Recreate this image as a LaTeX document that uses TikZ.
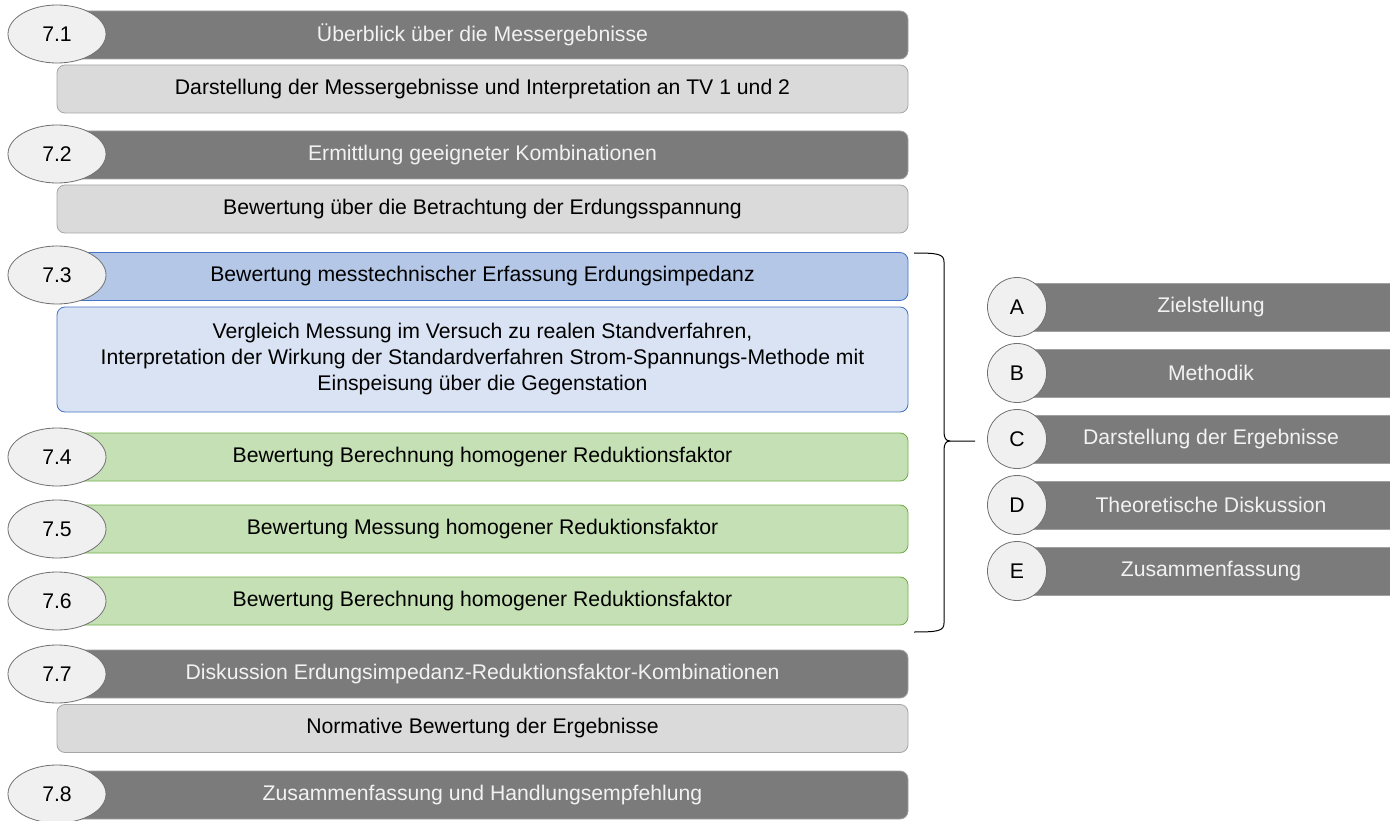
\documentclass[tikz,border=0pt]{standalone}
\usepackage{fontspec}
\setmainfont{Liberation Sans}
\usetikzlibrary{shapes.geometric}
\definecolor{darkbar}{HTML}{7B7B7B}
\definecolor{darkline}{HTML}{A0A0A0}
\definecolor{lightfill}{HTML}{DADADA}
\definecolor{lightline}{HTML}{A6A6A6}
\definecolor{bluebar}{HTML}{B4C7E7}
\definecolor{bluesub}{HTML}{DAE3F3}
\definecolor{blueline}{HTML}{4472C4}
\definecolor{greenbar}{HTML}{C5E0B4}
\definecolor{greenline}{HTML}{70AD47}
\definecolor{ovalfill}{HTML}{F0F0F0}
\definecolor{ovalline}{HTML}{707070}
\definecolor{bartext}{HTML}{F2F2F2}
\begin{document}
\begin{tikzpicture}[x=1pt,y=-1pt,
  every node/.style={font=\fontsize{21.2}{26}\selectfont, inner sep=0pt},
  barbase/.style={rectangle, rounded corners=8pt, minimum width=851pt, minimum height=48pt, line width=0.8pt},
  darkbox/.style={barbase, fill=darkbar, draw=darkline, text=bartext},
  subbox/.style={rectangle, rounded corners=8pt, minimum width=851pt, minimum height=48pt, fill=lightfill, draw=lightline, line width=0.8pt, text=black},
  bluebox/.style={barbase, fill=bluebar, draw=blueline, text=black},
  bluesubbox/.style={rectangle, rounded corners=8pt, minimum width=851pt, minimum height=105pt, fill=bluesub, draw=blueline, line width=0.8pt, text=black, align=center},
  greenbox/.style={barbase, fill=greenbar, draw=greenline, text=black},
  numoval/.style={ellipse, minimum width=98pt, minimum height=58pt, fill=ovalfill, draw=ovalline, line width=0.8pt},
  letcircle/.style={circle, minimum size=59pt, fill=ovalfill, draw=ovalline, line width=0.8pt},
  sidebar/.style={rectangle, minimum width=358pt, minimum height=48pt, fill=darkbar, draw=darkline, line width=0.6pt, text=bartext},
  bracket/.style={draw=black, line width=1pt}
]
\useasboundingbox (0,0) rectangle (1390,821);
% main column
\node[darkbox] (b1) at (482.5,35) {Überblick über die Messergebnisse};
\node[subbox] (s1) at (482.5,89) {Darstellung der Messergebnisse und Interpretation an TV 1 und 2};
\node[numoval] (o1) at (57,34) {7.1};

\node[darkbox] (b2) at (482.5,155) {Ermittlung geeigneter Kombinationen};
\node[subbox] (s2) at (482.5,209) {Bewertung über die Betrachtung der Erdungsspannung};
\node[numoval] (o2) at (57,154) {7.2};

\node[bluebox] (b3) at (482.5,276.5) {Bewertung messtechnischer Erfassung Erdungsimpedanz};
\node[bluesubbox] (s3) at (482.5,359.5) {Vergleich Messung im Versuch zu realen Standverfahren,\\Interpretation der Wirkung der Standardverfahren Strom-Spannungs-Methode mit\\Einspeisung über die Gegenstation};
\node[numoval] (o3) at (57,275) {7.3};

\node[greenbox] (b4) at (482.5,457) {Bewertung Berechnung homogener Reduktionsfaktor};
\node[numoval] (o4) at (57,457) {7.4};
\node[greenbox] (b5) at (482.5,529) {Bewertung Messung homogener Reduktionsfaktor};
\node[numoval] (o5) at (57,529) {7.5};
\node[greenbox] (b6) at (482.5,601) {Bewertung Berechnung homogener Reduktionsfaktor};
\node[numoval] (o6) at (57,601) {7.6};

\node[darkbox] (b7) at (482.5,674) {Diskussion Erdungsimpedanz-Reduktionsfaktor-Kombinationen};
\node[subbox] (s7) at (482.5,728.5) {Normative Bewertung der Ergebnisse};
\node[numoval] (o7) at (57,674) {7.7};

\node[darkbox] (b8) at (482.5,795) {Zusammenfassung und Handlungsempfehlung};
\node[numoval] (o8) at (57,794) {7.8};

% bracket
\coordinate (bt) at (914,253);
\coordinate (bb) at (914,632);
\coordinate (tip) at (975,441);
\draw[bracket] (bt) .. controls (938,253) and (944,254) .. (944,262) -- (944,432) .. controls (944,438) and (946,441) .. (950,441) -- (tip);
\draw[bracket] (bb) .. controls (938,632) and (944,631) .. (944,623) -- (944,450) .. controls (944,444) and (946,441) .. (950,441);

% side list
\node[sidebar] (ba) at (1211,307) {Zielstellung};
\node[letcircle] (ca) at (1017,307) {A};
\node[sidebar] (bb2) at (1211,373) {Methodik};
\node[letcircle] (cb) at (1017,373) {B};
\node[sidebar] (bc) at (1211,439) {Darstellung der Ergebnisse};
\node[letcircle] (cc) at (1017,439) {C};
\node[sidebar] (bd) at (1211,505) {Theoretische Diskussion};
\node[letcircle] (cd) at (1017,505) {D};
\node[sidebar] (be) at (1211,571) {Zusammenfassung};
\node[letcircle] (ce) at (1017,571) {E};
\end{tikzpicture}
\end{document}
